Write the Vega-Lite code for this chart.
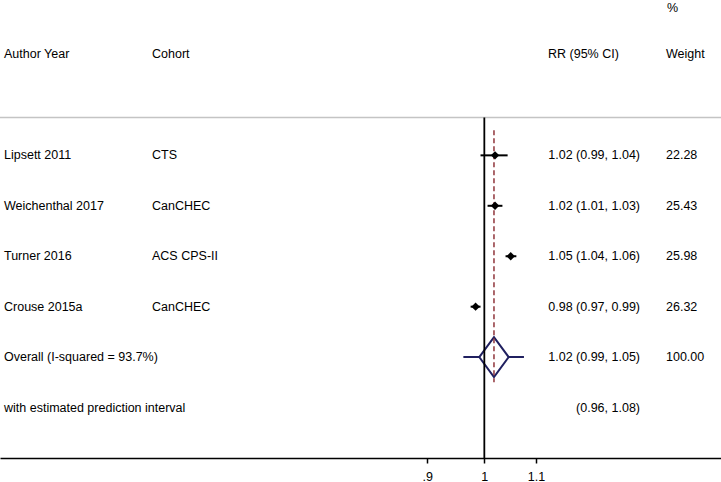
{
  "$schema": "https://vega.github.io/schema/vega-lite/v6.json",
  "width": 721,
  "height": 458,
  "autosize": {"type": "none"},
  "padding": {"left": 0, "top": 0, "right": 0, "bottom": 24},
  "background": "white",
  "config": {
    "view": {"stroke": null},
    "font": "Liberation Sans",
    "text": {"font": "Liberation Sans", "fontSize": 12.5, "color": "black", "baseline": "middle"}
  },
  "datasets": {
    "studies": [
      {"study": "Lipsett 2011", "cohort": "CTS", "rr": 1.02, "lo": 0.993, "hi": 1.044, "ci": "1.02 (0.99, 1.04)", "weight": "22.28", "row": 1},
      {"study": "Weichenthal 2017", "cohort": "CanCHEC", "rr": 1.02, "lo": 1.006, "hi": 1.034, "ci": "1.02 (1.01, 1.03)", "weight": "25.43", "row": 2},
      {"study": "Turner 2016", "cohort": "ACS CPS-II", "rr": 1.05, "lo": 1.04, "hi": 1.061, "ci": "1.05 (1.04, 1.06)", "weight": "25.98", "row": 3},
      {"study": "Crouse 2015a", "cohort": "CanCHEC", "rr": 0.984, "lo": 0.975, "hi": 0.993, "ci": "0.98 (0.97, 0.99)", "weight": "26.32", "row": 4}
    ],
    "pooled": [
      {"label": "Overall (I-squared = 93.7%)", "rr": 1.018, "lo": 0.991, "hi": 1.046, "ci": "1.02 (0.99, 1.05)", "weight": "100.00", "row": 5,
       "pi_label": "with estimated prediction interval", "pi_lo": 0.962, "pi_hi": 1.076, "pi_ci": "(0.96, 1.08)", "pi_row": 6}
    ],
    "header": [
      {"study": "Author Year", "cohort": "Cohort", "ci": "RR (95% CI)", "weight": "Weight", "pct": "%", "row": -1, "pct_row": -1.92}
    ]
  },
  "layer": [
    {
      "data": {"name": "header"},
      "mark": {"type": "rule", "color": "#c4c4c4", "strokeWidth": 1.5},
      "encoding": {"y": {"datum": 0.25, "type": "quantitative", "scale": {"domain": [-2.08, 7], "reverse": true, "nice": false, "zero": false}, "axis": null}}
    },
    {
      "data": {"name": "pooled"},
      "mark": {"type": "rule", "color": "#202060", "strokeWidth": 2},
      "encoding": {
        "x": {"field": "pi_lo", "type": "quantitative", "scale": {"type": "log", "domain": [0.4085, 1.5488], "nice": false, "zero": false},
              "axis": {"values": [0.9, 1, 1.1], "labelExpr": "datum.value < 0.95 ? '.9' : datum.value < 1.05 ? '1' : '1.1'", "title": null, "grid": false,
                       "domainColor": "black", "domainWidth": 1.5, "tickColor": "black", "tickWidth": 1.5, "tickSize": 5,
                       "labelFont": "Liberation Sans", "labelFontSize": 12.5, "labelColor": "black", "labelPadding": 7}},
        "x2": {"field": "pi_hi"},
        "y": {"field": "row", "type": "quantitative"}
      }
    },
    {
      "data": {"name": "pooled"},
      "mark": {"type": "point", "shape": "M-0.735,0L0,-1L0.735,0L0,1Z", "size": 1600, "filled": true, "fill": "white", "stroke": "#202060", "strokeWidth": 2, "opacity": 1},
      "encoding": {
        "x": {"field": "rr", "type": "quantitative"},
        "y": {"field": "row", "type": "quantitative"}
      }
    },
    {
      "data": {"name": "header"},
      "mark": {"type": "rule", "color": "black", "strokeWidth": 1.8},
      "encoding": {
        "x": {"datum": 1, "type": "quantitative"},
        "y": {"datum": 0.25, "type": "quantitative"},
        "y2": {"datum": 7}
      }
    },
    {
      "data": {"name": "pooled"},
      "mark": {"type": "rule", "color": "#90353b", "strokeWidth": 1.5, "strokeDash": [5, 3]},
      "encoding": {
        "x": {"field": "rr", "type": "quantitative"},
        "y": {"datum": 0.5, "type": "quantitative"},
        "y2": {"datum": 5.5}
      }
    },
    {
      "data": {"name": "studies"},
      "mark": {"type": "rule", "color": "black", "strokeWidth": 2},
      "encoding": {
        "x": {"field": "lo", "type": "quantitative"},
        "x2": {"field": "hi"},
        "y": {"field": "row", "type": "quantitative"}
      }
    },
    {
      "data": {"name": "studies"},
      "mark": {"type": "point", "shape": "diamond", "size": 70, "filled": true, "color": "black", "opacity": 1},
      "encoding": {
        "x": {"field": "rr", "type": "quantitative"},
        "y": {"field": "row", "type": "quantitative"}
      }
    },
    {
      "data": {"name": "header"},
      "mark": {"type": "text", "align": "left"},
      "encoding": {"x": {"value": 4}, "y": {"field": "row", "type": "quantitative"}, "text": {"field": "study"}}
    },
    {
      "data": {"name": "header"},
      "mark": {"type": "text", "align": "left"},
      "encoding": {"x": {"value": 152}, "y": {"field": "row", "type": "quantitative"}, "text": {"field": "cohort"}}
    },
    {
      "data": {"name": "header"},
      "mark": {"type": "text", "align": "left"},
      "encoding": {"x": {"value": 548}, "y": {"field": "row", "type": "quantitative"}, "text": {"field": "ci"}}
    },
    {
      "data": {"name": "header"},
      "mark": {"type": "text", "align": "left"},
      "encoding": {"x": {"value": 666}, "y": {"field": "row", "type": "quantitative"}, "text": {"field": "weight"}}
    },
    {
      "data": {"name": "header"},
      "mark": {"type": "text", "align": "left"},
      "encoding": {"x": {"value": 667}, "y": {"field": "pct_row", "type": "quantitative"}, "text": {"field": "pct"}}
    },
    {
      "data": {"name": "studies"},
      "mark": {"type": "text", "align": "left"},
      "encoding": {"x": {"value": 4}, "y": {"field": "row", "type": "quantitative"}, "text": {"field": "study"}}
    },
    {
      "data": {"name": "studies"},
      "mark": {"type": "text", "align": "left"},
      "encoding": {"x": {"value": 152}, "y": {"field": "row", "type": "quantitative"}, "text": {"field": "cohort"}}
    },
    {
      "data": {"name": "studies"},
      "mark": {"type": "text", "align": "right"},
      "encoding": {"x": {"value": 640}, "y": {"field": "row", "type": "quantitative"}, "text": {"field": "ci"}}
    },
    {
      "data": {"name": "studies"},
      "mark": {"type": "text", "align": "left"},
      "encoding": {"x": {"value": 666}, "y": {"field": "row", "type": "quantitative"}, "text": {"field": "weight"}}
    },
    {
      "data": {"name": "pooled"},
      "mark": {"type": "text", "align": "left"},
      "encoding": {"x": {"value": 4}, "y": {"field": "row", "type": "quantitative"}, "text": {"field": "label"}}
    },
    {
      "data": {"name": "pooled"},
      "mark": {"type": "text", "align": "right"},
      "encoding": {"x": {"value": 640}, "y": {"field": "row", "type": "quantitative"}, "text": {"field": "ci"}}
    },
    {
      "data": {"name": "pooled"},
      "mark": {"type": "text", "align": "left"},
      "encoding": {"x": {"value": 666}, "y": {"field": "row", "type": "quantitative"}, "text": {"field": "weight"}}
    },
    {
      "data": {"name": "pooled"},
      "mark": {"type": "text", "align": "left"},
      "encoding": {"x": {"value": 4}, "y": {"field": "pi_row", "type": "quantitative"}, "text": {"field": "pi_label"}}
    },
    {
      "data": {"name": "pooled"},
      "mark": {"type": "text", "align": "right"},
      "encoding": {"x": {"value": 640}, "y": {"field": "pi_row", "type": "quantitative"}, "text": {"field": "pi_ci"}}
    }
  ]
}
